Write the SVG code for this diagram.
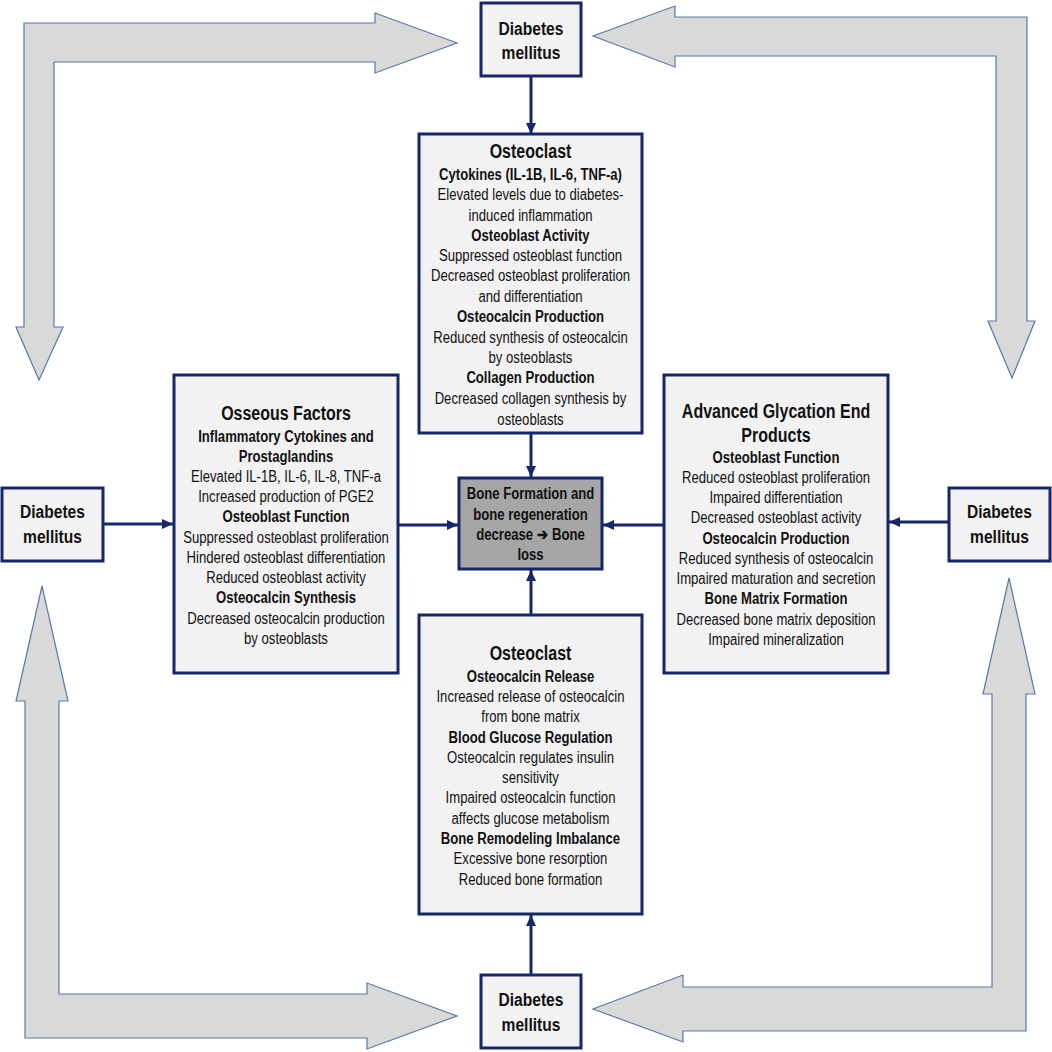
<svg xmlns="http://www.w3.org/2000/svg" width="1052" height="1052" viewBox="0 0 1052 1052">
<defs>
<style>
.big{fill:#d9d9d9;stroke:#5b7aa3;stroke-width:1.2}
.box{fill:#f2f2f2;stroke:#16266a;stroke-width:3}
.ctr{fill:#a6a6a6;stroke:#16266a;stroke-width:3}
.con{stroke:#16266a;stroke-width:3;fill:none;marker-end:url(#ah)}
text{font-family:"Liberation Sans Narrow","Arial Narrow","Liberation Sans",Arial,sans-serif;fill:#111;text-anchor:middle}
.t{font-size:19.5px;font-weight:bold}
.h{font-size:16px;font-weight:bold}
.b{font-size:16px}
.dm{font-size:19px;font-weight:bold}
</style>
<marker id="ah" markerUnits="userSpaceOnUse" markerWidth="12" markerHeight="12" refX="11" refY="5" orient="auto">
<path d="M0,0 L11,5 L0,10 z" fill="#16266a"/>
</marker>
</defs>
<rect width="1052" height="1052" fill="#fff"/>
<g id="big-arrows">
<polygon id="arrow-tl" class="big" points="24,23 375,23 375,13 457,43 375,73 375,62 54,62 54,327 63,327 39,380 16,327 24,327"/>
<polygon id="arrow-bl" class="big" points="25,1038 25,701 16,701 42,586 68,701 59,701 59,994 367,994 367,983 457,1016 367,1049 367,1038"/>
<polygon id="arrow-tr" class="big" points="1027,17 675,17 675,6 593,36 675,67 675,56 996,56 996,321 988,321 1012,378 1035,321 1027,321"/>
<polygon id="arrow-br" class="big" points="1026,1031 683,1031 683,1042 593,1009 683,975 683,987 992,987 992,694 983,694 1009,578 1035,694 1026,694"/>
</g>
<g id="connectors">
<line class="con" x1="531" y1="76" x2="531" y2="134"/>
<line class="con" x1="531" y1="433" x2="531" y2="477"/>
<line class="con" x1="531" y1="615" x2="531" y2="570"/>
<line class="con" x1="531" y1="975" x2="531" y2="915"/>
<line class="con" x1="103" y1="524" x2="173" y2="524"/>
<line class="con" x1="398" y1="525" x2="458" y2="525"/>
<line class="con" x1="664" y1="525" x2="603" y2="525"/>
<line class="con" x1="949" y1="522" x2="889" y2="522"/>
</g>
<g id="dm-top">
<rect class="box" x="481" y="3" width="100" height="73"/>
<g transform="translate(531 0) scale(0.82 1)">
<text class="dm" x="0" y="35">Diabetes</text>
<text class="dm" x="0" y="59">mellitus</text>
</g>
</g>
<g id="dm-left">
<rect class="box" x="2" y="488" width="101" height="73"/>
<g transform="translate(52.5 0) scale(0.82 1)">
<text class="dm" x="0" y="518">Diabetes</text>
<text class="dm" x="0" y="543">mellitus</text>
</g>
</g>
<g id="dm-right">
<rect class="box" x="949" y="488" width="101" height="73"/>
<g transform="translate(999.5 0) scale(0.82 1)">
<text class="dm" x="0" y="518">Diabetes</text>
<text class="dm" x="0" y="543">mellitus</text>
</g>
</g>
<g id="dm-bottom">
<rect class="box" x="481" y="975" width="100" height="73"/>
<g transform="translate(531 0) scale(0.82 1)">
<text class="dm" x="0" y="1006">Diabetes</text>
<text class="dm" x="0" y="1031">mellitus</text>
</g>
</g>
<g id="osteoclast-top">
<rect class="box" x="419" y="134" width="223" height="299"/>
<g transform="translate(530.5 0) scale(0.82 1)">
<text class="t" x="0" y="158">Osteoclast</text>
<text class="h" x="0" y="180">Cytokines (IL-1B, IL-6, TNF-a)</text>
<text class="b" x="0" y="200">Elevated levels due to diabetes-</text>
<text class="b" x="0" y="221">induced inflammation</text>
<text class="h" x="0" y="241">Osteoblast Activity</text>
<text class="b" x="0" y="261">Suppressed osteoblast function</text>
<text class="b" x="0" y="281">Decreased osteoblast proliferation</text>
<text class="b" x="0" y="302">and differentiation</text>
<text class="h" x="0" y="322">Osteocalcin Production</text>
<text class="b" x="0" y="343">Reduced synthesis of osteocalcin</text>
<text class="b" x="0" y="363">by osteoblasts</text>
<text class="h" x="0" y="383">Collagen Production</text>
<text class="b" x="0" y="404">Decreased collagen synthesis by</text>
<text class="b" x="0" y="425">osteoblasts</text>
</g>
</g>
<g id="osseous">
<rect class="box" x="174" y="375" width="224" height="298"/>
<g transform="translate(286 0) scale(0.82 1)">
<text class="t" x="0" y="420">Osseous Factors</text>
<text class="h" x="0" y="442">Inflammatory Cytokines and</text>
<text class="h" x="0" y="462">Prostaglandins</text>
<text class="b" x="0" y="482">Elevated IL-1B, IL-6, IL-8, TNF-a</text>
<text class="b" x="0" y="502">Increased production of PGE2</text>
<text class="h" x="0" y="522">Osteoblast Function</text>
<text class="b" x="0" y="543">Suppressed osteoblast proliferation</text>
<text class="b" x="0" y="563">Hindered osteoblast differentiation</text>
<text class="b" x="0" y="583">Reduced osteoblast activity</text>
<text class="h" x="0" y="603">Osteocalcin Synthesis</text>
<text class="b" x="0" y="624">Decreased osteocalcin production</text>
<text class="b" x="0" y="644">by osteoblasts</text>
</g>
</g>
<g id="age">
<rect class="box" x="664" y="375" width="224" height="298"/>
<g transform="translate(776 0) scale(0.82 1)">
<text class="t" x="0" y="418">Advanced Glycation End</text>
<text class="t" x="0" y="442">Products</text>
<text class="h" x="0" y="463">Osteoblast Function</text>
<text class="b" x="0" y="483">Reduced osteoblast proliferation</text>
<text class="b" x="0" y="503">Impaired differentiation</text>
<text class="b" x="0" y="523">Decreased osteoblast activity</text>
<text class="h" x="0" y="544">Osteocalcin Production</text>
<text class="b" x="0" y="564">Reduced synthesis of osteocalcin</text>
<text class="b" x="0" y="584">Impaired maturation and secretion</text>
<text class="h" x="0" y="604">Bone Matrix Formation</text>
<text class="b" x="0" y="625">Decreased bone matrix deposition</text>
<text class="b" x="0" y="645">Impaired mineralization</text>
</g>
</g>
<g id="osteoclast-bottom">
<rect class="box" x="419" y="615" width="223" height="299"/>
<g transform="translate(530.5 0) scale(0.82 1)">
<text class="t" x="0" y="660">Osteoclast</text>
<text class="h" x="0" y="682">Osteocalcin Release</text>
<text class="b" x="0" y="702">Increased release of osteocalcin</text>
<text class="b" x="0" y="722">from bone matrix</text>
<text class="h" x="0" y="743">Blood Glucose Regulation</text>
<text class="b" x="0" y="763">Osteocalcin regulates insulin</text>
<text class="b" x="0" y="783">sensitivity</text>
<text class="b" x="0" y="803">Impaired osteocalcin function</text>
<text class="b" x="0" y="824">affects glucose metabolism</text>
<text class="h" x="0" y="844">Bone Remodeling Imbalance</text>
<text class="b" x="0" y="864">Excessive bone resorption</text>
<text class="b" x="0" y="885">Reduced bone formation</text>
</g>
</g>
<g id="center">
<rect class="ctr" x="459" y="478" width="143" height="91"/>
<g transform="translate(530.5 0) scale(0.82 1)">
<text class="h" x="0" y="499">Bone Formation and</text>
<text class="h" x="0" y="520">bone regeneration</text>
<text class="h" x="0" y="540">decrease ➔ Bone</text>
<text class="h" x="0" y="560">loss</text>
</g>
</g>
</svg>
